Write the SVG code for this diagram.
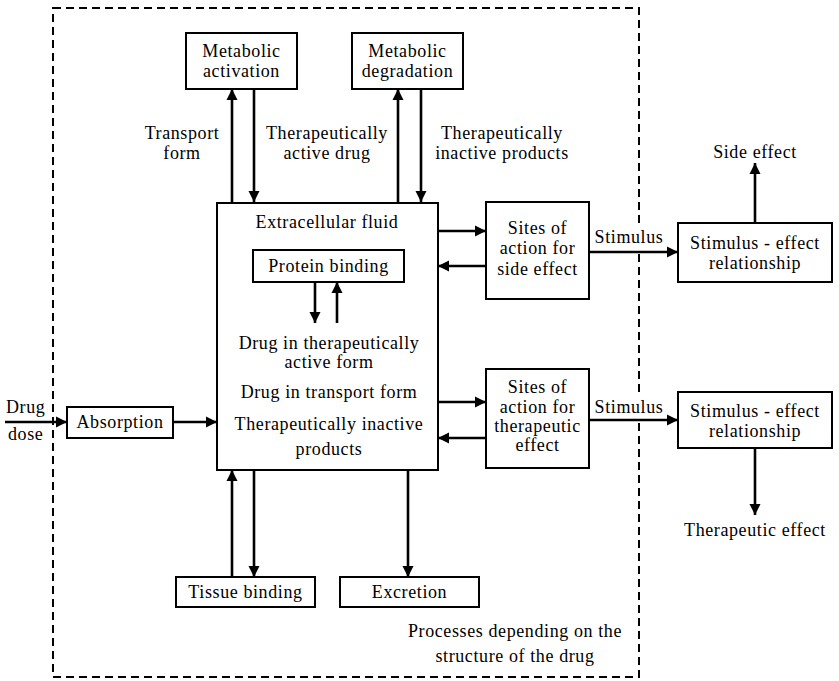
<svg xmlns="http://www.w3.org/2000/svg" width="839" height="681" viewBox="0 0 839 681">
<defs>
<marker id="ah" markerUnits="userSpaceOnUse" markerWidth="12" markerHeight="12" refX="11" refY="6" orient="auto">
<path d="M0,0.5 L11,6 L0,11.5 Z" fill="#000"/>
</marker>
</defs>
<style>
.box{fill:#fff;stroke:#000;stroke-width:2}
.dash{fill:none;stroke:#000;stroke-width:2;stroke-dasharray:8 5}
.c{fill:none;stroke:#000;stroke-width:2.6;marker-end:url(#ah)}
.bg{fill:#fff;stroke:none}
text{font-family:"Liberation Serif","Times New Roman",serif;font-size:18px;letter-spacing:0.6px;fill:#000;text-anchor:middle}
.l{text-anchor:start}
</style>
<rect width="839" height="681" fill="#fff"/>
<rect id="structure-region" class="dash" x="53" y="8" width="586" height="669"/>

<g id="labels">
<text x="182" y="139">Transport</text>
<text x="182" y="159">form</text>
<text x="327" y="139">Therapeutically</text>
<text x="327" y="159">active drug</text>
<text x="502" y="139">Therapeutically</text>
<text x="502" y="159">inactive products</text>
<text x="755" y="158">Side effect</text>
<rect class="bg" x="593" y="227" width="72" height="22"/>
<text x="629" y="243">Stimulus</text>
<rect class="bg" x="593" y="397" width="72" height="21"/>
<text x="629" y="413">Stimulus</text>
<text x="755" y="536">Therapeutic effect</text>
<text class="l" x="6" y="413">Drug</text>
<text class="l" x="8" y="440">dose</text>
<text x="515" y="637">Processes depending on the</text>
<text x="515" y="662">structure of the drug</text>
</g>

<g id="metabolic-activation">
<rect class="box" x="186" y="33" width="111" height="56"/>
<text x="241.5" y="57">Metabolic</text>
<text x="241.5" y="77">activation</text>
</g>
<g id="metabolic-degradation">
<rect class="box" x="352" y="33" width="111" height="56"/>
<text x="407.5" y="57">Metabolic</text>
<text x="407.5" y="77">degradation</text>
</g>
<g id="extracellular-fluid">
<rect class="box" x="217" y="203" width="221" height="267"/>
<text x="327" y="228">Extracellular fluid</text>
<text x="329" y="349">Drug in therapeutically</text>
<text x="329" y="368">active form</text>
<text x="329" y="398">Drug in transport form</text>
<text x="329" y="430">Therapeutically inactive</text>
<text x="329" y="455">products</text>
</g>
<g id="protein-binding">
<rect class="box" x="253" y="250" width="151" height="32"/>
<text x="328.5" y="272">Protein binding</text>
</g>
<g id="absorption">
<rect class="box" x="67" y="407" width="106" height="31"/>
<text x="120" y="428">Absorption</text>
</g>
<g id="sites-side-effect">
<rect class="box" x="486" y="202" width="103" height="97"/>
<text x="537.5" y="234">Sites of</text>
<text x="537.5" y="254">action for</text>
<text x="537.5" y="275">side effect</text>
</g>
<g id="sites-therapeutic-effect">
<rect class="box" x="486" y="369" width="103" height="99"/>
<text x="537.5" y="393">Sites of</text>
<text x="537.5" y="413">action for</text>
<text x="537.5" y="432">therapeutic</text>
<text x="537.5" y="451">effect</text>
</g>
<g id="stimulus-effect-side">
<rect class="box" x="678" y="223" width="154" height="59"/>
<text x="755" y="249">Stimulus - effect</text>
<text x="755" y="269">relationship</text>
</g>
<g id="stimulus-effect-therapeutic">
<rect class="box" x="678" y="392" width="154" height="56"/>
<text x="755" y="417">Stimulus - effect</text>
<text x="755" y="437">relationship</text>
</g>
<g id="tissue-binding">
<rect class="box" x="176" y="577" width="139" height="30"/>
<text x="245.5" y="598">Tissue binding</text>
</g>
<g id="excretion">
<rect class="box" x="340" y="577" width="139" height="30"/>
<text x="409.5" y="598">Excretion</text>
</g>

<g id="connectors">
<path class="c" d="M232,202 V89"/>
<path class="c" d="M254,89 V202"/>
<path class="c" d="M398,202 V89"/>
<path class="c" d="M421,89 V202"/>
<path class="c" d="M315,282 V323"/>
<path class="c" d="M337,323 V282"/>
<path class="c" d="M5,422 H67"/>
<path class="c" d="M173,422 H217"/>
<path class="c" d="M438,231 H486"/>
<path class="c" d="M486,266 H438"/>
<path class="c" d="M438,402 H486"/>
<path class="c" d="M486,438 H438"/>
<path class="c" d="M589,252 H678"/>
<path class="c" d="M589,420 H678"/>
<path class="c" d="M755,223 V163"/>
<path class="c" d="M755,448 V515"/>
<path class="c" d="M232,577 V470"/>
<path class="c" d="M254,470 V577"/>
<path class="c" d="M408,470 V577"/>
</g>
</svg>
